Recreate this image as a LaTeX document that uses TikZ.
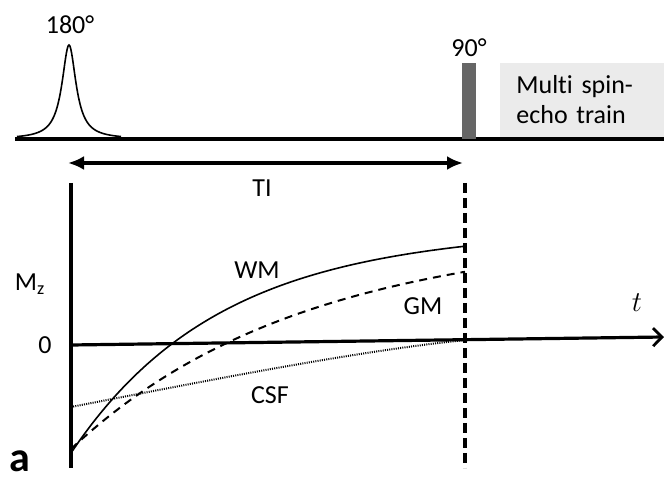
\documentclass[tikz,border=0pt]{standalone}
\usepackage{fontspec}
\setmainfont{Carlito}[Ligatures=NoCommon]
\usetikzlibrary{positioning,arrows.meta}

\begin{document}
\begin{tikzpicture}[x=0.5pt,y=-0.5pt,
    seqline/.style={line width=1.6pt},
    axisline/.style={line width=1.8pt},
    tiarrow/.style={{Latex[length=8pt,width=7pt]}-{Latex[length=8pt,width=7pt]}, line width=1.6pt},
    taxis/.style={-{Straight Barb[length=4.5pt,width=9pt,line width=1.4pt]}, line width=1.6pt},
    readout/.style={line width=1.6pt, dash pattern=on 5pt off 2.5pt},
    wmcurve/.style={line width=0.8pt},
    gmcurve/.style={line width=1pt, dash pattern=on 4pt off 3pt},
    csfcurve/.style={line width=1pt, dash pattern=on 0.5pt off 0.6pt},
    txt/.style={font=\fontsize{13}{15}\selectfont, inner sep=1pt},
    msebox/.style={fill=black!8, minimum height=37pt, text width=66pt, inner xsep=8pt, align=left, font=\fontsize{13}{15}\selectfont}
  ]
  \useasboundingbox (0,0) rectangle (664,480);

  % pulse sequence
  \coordinate (seq start) at (15,139);
  \coordinate (seq end) at (664,139);
  \draw[seqline] (seq start) -- (seq end);
  \draw[wmcurve] plot[domain=-52:52, samples=121, smooth] ({69+\x},{139-94/(1+(\x/8.5)*(\x/8.5))});
  \node[txt] (lbl180) at (70,25) {180°};
  \fill[black!60] (462,63) rectangle (476,139);
  \coordinate (p90 top) at (469,63);
  \node[txt, above=2pt of p90 top] (lbl90) {90°};
  \node[msebox, anchor=west] (mse) at (500,100) {Multi spin-\\echo train};

  % inversion time
  \coordinate (ti left) at (68,163);
  \coordinate (ti right) at (463,163);
  \draw[tiarrow] (ti left) -- (ti right);
  \node[txt] (ti) at (262,188) {TI};

  % axes and readout line
  \coordinate (mz top) at (71,183);
  \coordinate (mz bottom) at (71,468);
  \coordinate (origin) at (71,345);
  \coordinate (t end) at (664,337);
  \coordinate (ro top) at (465,183);
  \coordinate (ro bottom) at (465,468);
  \draw[axisline] (mz top) -- (mz bottom);
  \draw[taxis] (origin) -- (t end);
  \draw[readout] (ro top) -- (ro bottom);

  % recovery curves
  \draw[wmcurve] plot[domain=0:394, samples=80, smooth] ({71+\x},{345-0.0135*\x-108*(1-2*exp(-\x/146))});
  \draw[gmcurve] plot[domain=0:394, samples=80, smooth] ({71+\x},{345-0.0135*\x-104*(1-2*exp(-\x/225))});
  \coordinate (csf start) at (71,407);
  \coordinate (csf end) at (465,340);
  \draw[csfcurve] (csf start) .. controls (200,382) and (350,352) .. (csf end);

  % labels
  \node[txt] (wm) at (257,270) {WM};
  \node[txt] (gm) at (423,306) {GM};
  \node[txt] (csf) at (270,395) {CSF};
  \node[txt] (mz) at (30,284) {M\textsubscript{z}};
  \node[txt] (zero) at (45,345) {0};
  \node[font=\fontsize{15}{17}\selectfont] (tlab) at (637,303) {$t$};
  \node[font=\bfseries\fontsize{21}{24}\selectfont, anchor=base] (panel) at (20,472) {a};
\end{tikzpicture}
\end{document}
